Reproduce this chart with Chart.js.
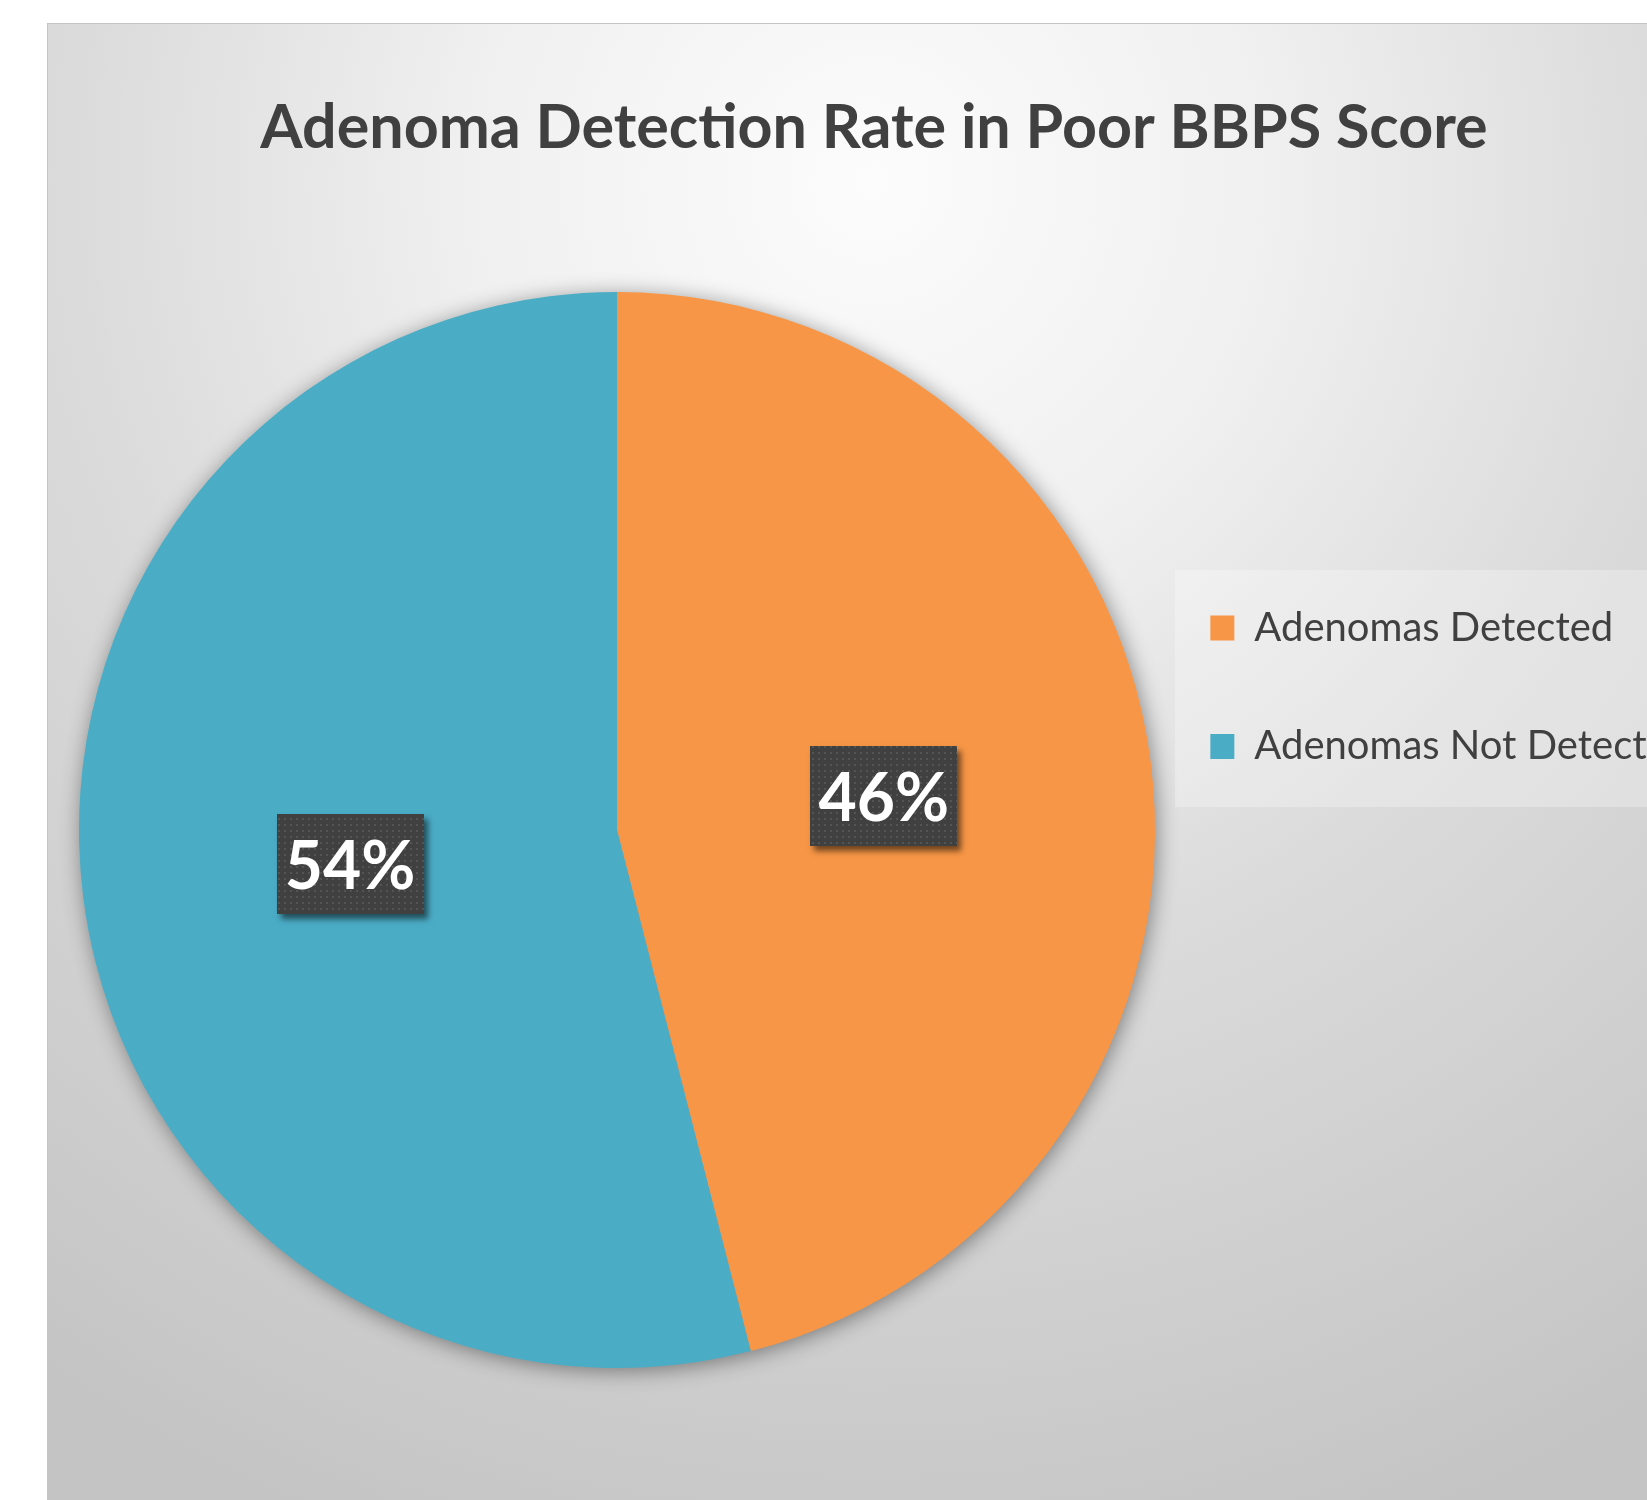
<!DOCTYPE html>
<html>
<head>
<meta charset="utf-8">
<script src="https://cdn.jsdelivr.net/npm/chart.js@4.4.1/dist/chart.umd.min.js"></script>
<style>
  html, body { margin: 0; padding: 0; background: #ffffff; overflow: hidden; }
  body { width: 1647px; height: 1500px; position: relative; }
  #panel {
    position: absolute; left: 47px; top: 23px; width: 1652px; height: 1500px;
    border-left: 1px solid #c4c4c4; border-top: 1px solid #c4c4c4;
    background: radial-gradient(circle at 823px 157px, #fcfcfc 0px, #f0f0f0 400px, #dbdbdb 800px, #c4c4c4 1450px);
  }
  #chart { position: absolute; left: 48px; top: 24px; }
</style>
</head>
<body>
<div id="panel"></div>
<canvas id="chart" width="1652" height="1476"></canvas>
<script>
// ---- data ----
const titleText = 'Adenoma Detection Rate in Poor BBPS Score';
const categories = ['Adenomas Detected', 'Adenomas Not Detected'];
const values = [46, 54];
const sliceColors = ['#F79646', '#4BACC6'];

// ---- helpers ----
function makeDotPattern(ctx) {
  const c = document.createElement('canvas');
  c.width = 6; c.height = 6;
  const g = c.getContext('2d');
  g.fillStyle = '#404040';
  g.fillRect(0, 0, 6, 6);
  g.fillStyle = '#545454';
  g.fillRect(2, 2, 2, 2);
  return ctx.createPattern(c, 'repeat');
}

const pieShadow = {
  id: 'pieShadow',
  beforeDatasetsDraw(chart) {
    const meta = chart.getDatasetMeta(0);
    if (!meta.data.length) return;
    const arc = meta.data[0];
    const ctx = chart.ctx;
    ctx.save();
    ctx.beginPath();
    ctx.arc(arc.x, arc.y, arc.outerRadius - 1, 0, Math.PI * 2);
    ctx.fillStyle = '#9a9a9a';
    ctx.shadowColor = 'rgba(0,0,0,0.45)';
    ctx.shadowBlur = 22;
    ctx.shadowOffsetX = 2;
    ctx.shadowOffsetY = 3;
    ctx.fill();
    ctx.restore();
  }
};

const sliceLabels = {
  id: 'sliceLabels',
  afterDatasetsDraw(chart, args, opts) {
    const ctx = chart.ctx;
    const ds = chart.data.datasets[0];
    const total = ds.data.reduce((a, b) => a + b, 0);
    const meta = chart.getDatasetMeta(0);
    const pattern = makeDotPattern(ctx);
    meta.data.forEach((arc, i) => {
      const p = arc.tooltipPosition();
      const text = Math.round(ds.data[i] / total * 100) + '%';
      const w = opts.boxWidth, h = opts.boxHeight;
      const x0 = Math.round(p.x - w / 2), y0 = Math.round(p.y - h / 2);
      ctx.save();
      ctx.shadowColor = 'rgba(0,0,0,0.55)';
      ctx.shadowBlur = 6;
      ctx.shadowOffsetX = 4;
      ctx.shadowOffsetY = 5;
      ctx.fillStyle = '#404040';
      ctx.fillRect(x0, y0, w, h);
      ctx.restore();
      ctx.save();
      ctx.fillStyle = pattern;
      ctx.fillRect(x0, y0, w, h);
      ctx.fillStyle = '#ffffff';
      ctx.font = opts.font;
      ctx.textAlign = 'center';
      ctx.textBaseline = 'alphabetic';
      ctx.fillText(text, p.x, p.y + opts.textDrop);
      ctx.restore();
    });
  }
};

// light panel behind the legend
const legendPanel = {
  id: 'legendPanel',
  beforeDraw(chart, args, opts) {
    const lg = chart.legend;
    if (!lg || !lg.legendHitBoxes || !lg.legendHitBoxes.length) return;
    const hb = lg.legendHitBoxes;
    const ctx = chart.ctx;
    ctx.save();
    ctx.fillStyle = opts.color;
    const top = hb[0].top - opts.padTop;
    const bottom = hb[hb.length - 1].top + opts.padBottom;
    ctx.fillRect(lg.left - opts.padLeft, top, chart.width, bottom - top);
    ctx.restore();
  }
};

function legendLabels(chart) {
  const base = (Chart.overrides.pie && Chart.overrides.pie.plugins.legend.labels.generateLabels) ||
               Chart.controllers.doughnut.overrides.plugins.legend.labels.generateLabels;
  return base(chart).map(it => Object.assign(it, { text: [it.text], lineWidth: 0 }));
}

function build() {
  new Chart(document.getElementById('chart'), {
    type: 'pie',
    data: {
      labels: categories,
      datasets: [{
        data: values,
        backgroundColor: sliceColors,
        borderWidth: 0,
        hoverBorderWidth: 0,
        offset: 0,
        hoverOffset: 0
      }]
    },
    options: {
      responsive: false,
      animation: false,
      events: [],
      layout: { padding: { left: 0, right: 0, top: 36.66, bottom: 132 } },
      plugins: {
        tooltip: { enabled: false },
        title: {
          display: true,
          text: titleText,
          color: '#404040',
          font: { family: 'Lato', size: 61, weight: 'bold', lineHeight: 1.2 },
          padding: { top: 30.84, bottom: 127.3 }
        },
        legend: {
          display: true,
          position: 'right',
          fullSize: true,
          maxWidth: 514,
          labels: {
            color: '#404040',
            font: { family: 'Lato', size: 40, lineHeight: 2.354 },
            boxWidth: 24,
            boxHeight: 25,
            padding: 24.34,
            generateLabels: legendLabels
          }
        },
        legendPanel: { color: 'rgba(255,255,255,0.28)', padLeft: 11, padTop: 38, padBottom: 80.5 },
        sliceLabels: {
          boxWidth: 147, boxHeight: 100,
          font: 'bold 66px Lato', textDrop: 25
        }
      }
    },
    plugins: [legendPanel, pieShadow, sliceLabels]
  });
}

if (document.fonts && document.fonts.load) {
  Promise.all([
    document.fonts.load('bold 61px Lato'),
    document.fonts.load('40px Lato')
  ]).then(build, build);
} else {
  build();
}
</script>
</body>
</html>
